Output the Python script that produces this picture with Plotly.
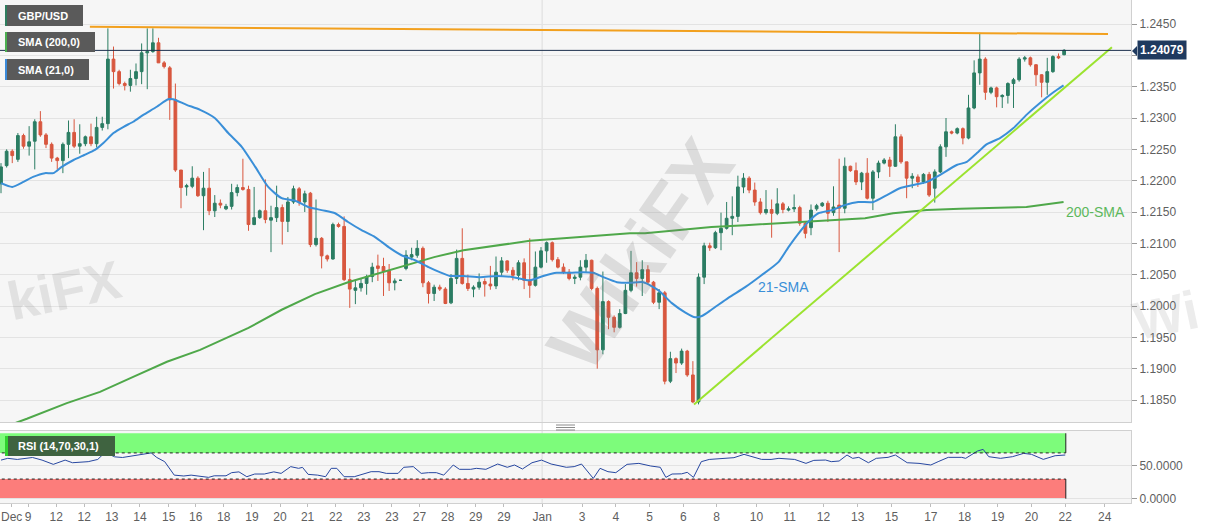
import plotly.graph_objects as go

# ---------------- DATA ----------------
# 4-hour GBP/USD candles, index 0..189
candle_open = [
1.2195,1.2224,1.2247,1.2234,1.2272,1.2255,1.2263,1.2294,1.2273,1.2258,
1.2236,1.2232,1.2258,1.2277,1.2255,1.2259,1.2270,1.2259,1.2285,1.2291,
1.2394,1.2374,1.2355,1.2352,1.2363,1.2374,1.2404,1.2406,1.2420,1.2388,
1.2380,1.2329,1.2217,1.2190,1.2191,1.2204,1.2176,1.2188,1.2152,1.2164,
1.2155,1.2159,1.2181,1.2189,1.2186,1.2130,1.2141,1.2152,1.2137,1.2141,
1.2157,1.2135,1.2166,1.2187,1.2166,1.2180,1.2098,1.2108,1.2080,1.2075,
1.2130,1.2127,1.2042,1.2025,1.2029,1.2036,1.2047,1.2064,1.2063,1.2056,
1.2037,1.2041,1.2060,1.2078,1.2081,1.2092,1.2037,1.2020,1.2030,1.2027,
1.2005,1.2044,1.2076,1.2036,1.2027,1.2030,1.2039,1.2035,1.2032,1.2054,
1.2072,1.2057,1.2049,1.2069,1.2041,1.2033,1.2062,1.2088,1.2101,1.2074,
1.2062,1.2054,1.2044,1.2046,1.2062,1.2073,1.2028,1.1930,1.2007,1.1982,
1.1966,1.1988,1.2025,1.2053,1.2044,1.2058,1.2038,1.2006,1.2021,1.1880,
1.1916,1.1909,1.1928,1.1890,1.1847,1.2046,1.2096,1.2093,1.2117,1.2124,
1.2140,1.2143,1.2190,1.2204,1.2185,1.2166,1.2149,1.2154,1.2148,1.2163,
1.2153,1.2155,1.2157,1.2132,1.2125,1.2155,1.2160,1.2164,1.2149,1.2161,
1.2156,1.2223,1.2216,1.2198,1.2212,1.2172,1.2214,1.2228,1.2233,1.2223,
1.2270,1.2230,1.2204,1.2206,1.2198,1.2210,1.2188,1.2214,1.2254,1.2278,
1.2276,1.2283,1.2268,1.2316,1.2372,1.2394,1.2341,1.2348,1.2334,1.2336,
1.2355,1.2361,1.2394,1.2396,1.2385,1.2369,1.2357,1.2374,1.2398,1.2401]
candle_high = [
1.2228,1.2250,1.2250,1.2276,1.2275,1.2287,1.2298,1.2311,1.2276,1.2261,
1.2238,1.2261,1.2296,1.2298,1.2290,1.2272,1.2291,1.2302,1.2302,1.2443,
1.2414,1.2377,1.2358,1.2377,1.2387,1.2419,1.2443,1.2443,1.2428,1.2391,
1.2383,1.2355,1.2217,1.2195,1.2223,1.2207,1.2214,1.2220,1.2177,1.2170,
1.2163,1.2195,1.2194,1.2235,1.2192,1.2190,1.2154,1.2202,1.2160,1.2192,
1.2162,1.2174,1.2192,1.2190,1.2184,1.2182,1.2170,1.2110,1.2082,1.2133,
1.2133,1.2143,1.2060,1.2042,1.2044,1.2050,1.2069,1.2082,1.2077,1.2067,
1.2044,1.2042,1.2089,1.2093,1.2105,1.2095,1.2040,1.2034,1.2034,1.2030,
1.2051,1.2090,1.2124,1.2050,1.2033,1.2052,1.2044,1.2064,1.2079,1.2078,
1.2073,1.2062,1.2073,1.2076,1.2108,1.2087,1.2094,1.2103,1.2103,1.2078,
1.2068,1.2059,1.2050,1.2073,1.2083,1.2074,1.2031,1.2055,1.2009,1.1985,
1.1995,1.2035,1.2088,1.2070,1.2073,1.2065,1.2040,1.2027,1.2024,1.1927,
1.1918,1.1932,1.1930,1.1912,1.2052,1.2101,1.2101,1.2120,1.2149,1.2166,
1.2175,1.2208,1.2212,1.2207,1.2197,1.2172,1.2185,1.2170,1.2188,1.2166,
1.2159,1.2178,1.2160,1.2135,1.2162,1.2163,1.2166,1.2168,1.2191,1.2235,
1.2237,1.2224,1.2229,1.2214,1.2236,1.2217,1.2232,1.2236,1.2238,1.2290,
1.2274,1.2230,1.2212,1.2210,1.2212,1.2214,1.2218,1.2258,1.2300,1.2280,
1.2285,1.2285,1.2337,1.2392,1.2436,1.2397,1.2350,1.2350,1.2338,1.2357,
1.2364,1.2397,1.2399,1.2398,1.2386,1.2370,1.2396,1.2400,1.2403,1.2410]
candle_low = [
1.2180,1.2221,1.2228,1.2230,1.2251,1.2240,1.2218,1.2270,1.2252,1.2230,
1.2218,1.2212,1.2236,1.2252,1.2243,1.2255,1.2255,1.2253,1.2280,1.2282,
1.2347,1.2352,1.2344,1.2342,1.2352,1.2354,1.2346,1.2404,1.2388,1.2379,
1.2297,1.2214,1.2156,1.2176,1.2188,1.2174,1.2121,1.2145,1.2142,1.2156,
1.2153,1.2154,1.2175,1.2184,1.2120,1.2129,1.2139,1.2132,1.2086,1.2134,
1.2098,1.2118,1.2163,1.2160,1.2150,1.2094,1.2095,1.2060,1.2071,1.2074,
1.2125,1.2040,1.1997,1.2003,1.2023,1.2018,1.2038,1.2040,1.2016,1.2024,
1.2025,1.2040,1.2057,1.2073,1.2077,1.2030,1.2004,1.2008,1.2024,1.2003,
1.2003,1.2035,1.2034,1.2024,1.2014,1.2026,1.2015,1.2026,1.2027,1.2048,
1.2053,1.2041,1.2041,1.2027,1.2013,1.2031,1.2060,1.2069,1.2071,1.2060,
1.2051,1.2041,1.2035,1.2041,1.2054,1.2025,1.1900,1.1923,1.1963,1.1958,
1.1964,1.1987,1.2022,1.2031,1.2016,1.2035,1.2003,1.1995,1.1875,1.1877,
1.1893,1.1906,1.1887,1.1845,1.1843,1.2035,1.2088,1.2091,1.2089,1.2122,
1.2113,1.2134,1.2180,1.2180,1.2160,1.2146,1.2146,1.2109,1.2145,1.2148,
1.2151,1.2150,1.2128,1.2108,1.2113,1.2152,1.2158,1.2134,1.2144,1.2086,
1.2148,1.2214,1.2193,1.2185,1.2170,1.2153,1.2204,1.2226,1.2206,1.2222,
1.2227,1.2172,1.2188,1.2190,1.2195,1.2174,1.2165,1.2212,1.2238,1.2274,
1.2274,1.2258,1.2266,1.2314,1.2353,1.2329,1.2338,1.2317,1.2316,1.2323,
1.2316,1.2358,1.2390,1.2382,1.2351,1.2333,1.2337,1.2372,1.2394,1.2400]
candle_close = [
1.2222,1.2247,1.2240,1.2272,1.2255,1.2262,1.2294,1.2273,1.2258,1.2236,
1.2232,1.2258,1.2277,1.2255,1.2259,1.2270,1.2259,1.2285,1.2291,1.2394,
1.2374,1.2355,1.2352,1.2363,1.2374,1.2404,1.2406,1.2420,1.2388,1.2382,
1.2329,1.2217,1.2189,1.2192,1.2204,1.2176,1.2188,1.2152,1.2164,1.2161,
1.2159,1.2181,1.2189,1.2186,1.2130,1.2141,1.2152,1.2138,1.2141,1.2157,
1.2135,1.2166,1.2187,1.2166,1.2179,1.2098,1.2108,1.2080,1.2075,1.2130,
1.2127,1.2042,1.2027,1.2029,1.2036,1.2047,1.2062,1.2060,1.2055,1.2037,
1.2040,1.2041,1.2081,1.2082,1.2092,1.2037,1.2020,1.2030,1.2027,1.2004,
1.2044,1.2076,1.2036,1.2028,1.2030,1.2038,1.2035,1.2032,1.2054,1.2072,
1.2057,1.2049,1.2069,1.2041,1.2033,1.2062,1.2088,1.2101,1.2074,1.2062,
1.2054,1.2044,1.2046,1.2062,1.2073,1.2028,1.1930,1.2007,1.1982,1.1966,
1.1988,1.2025,1.2053,1.2044,1.2058,1.2038,1.2006,1.2021,1.1880,1.1916,
1.1909,1.1928,1.1890,1.1847,1.2046,1.2096,1.2093,1.2117,1.2124,1.2140,
1.2143,1.2190,1.2204,1.2185,1.2166,1.2149,1.2154,1.2148,1.2163,1.2154,
1.2155,1.2157,1.2132,1.2116,1.2153,1.2160,1.2164,1.2148,1.2158,1.2156,
1.2223,1.2216,1.2198,1.2212,1.2172,1.2214,1.2228,1.2233,1.2223,1.2270,
1.2230,1.2204,1.2207,1.2198,1.2210,1.2177,1.2214,1.2254,1.2278,1.2276,
1.2283,1.2268,1.2316,1.2372,1.2394,1.2341,1.2348,1.2334,1.2336,1.2355,
1.2361,1.2394,1.2396,1.2385,1.2369,1.2357,1.2374,1.2398,1.2396,1.2408]

# 21-period SMA, sampled (candle index, price)
sma21_x = [0,2,4,5.7,7.8,9.3,10.8,12.9,14.8,16.7,18.2,20,21.8,23.5,25.3,27.7,29.7,30.6,33,35.4,
           38,40.4,42.8,45.2,47.5,49.9,52.3,54.6,57,59.4,61.7,64.1,66.5,68.9,71.2,73.6,76,78,79.8,82.2,
           85.2,88.1,91.1,94,96.4,98.8,101.2,103.5,105.3,107.1,109.5,111.8,114.2,116.9,119.2,121.6,123.4,
           124.6,126.3,129.3,132.3,135.2,138.2,140,141.8,143.5,145.3,147.7,150,152.4,155.1,157.5,159.8,
           162.2,164.6,166.9,169.9,171.7,173.5,175.2,177.6,180,182.3,184.7,187.1,188.9]
sma21_y = [1.2196,1.2190,1.2198,1.2206,1.2212,1.2212,1.2222,1.2233,1.2241,1.2249,1.2260,1.2276,1.2286,
           1.2294,1.2305,1.2318,1.2330,1.2330,1.2321,1.2313,1.2300,1.2276,1.2254,1.2222,1.2190,1.2172,
           1.2168,1.2158,1.2153,1.2148,1.2134,1.2121,1.2110,1.2094,1.2081,1.2073,1.2062,1.2054,1.2048,
           1.2048,1.2046,1.2048,1.2046,1.2041,1.2048,1.2053,1.2053,1.2054,1.2053,1.2046,1.2038,1.2037,
           1.2038,1.2025,1.2005,1.1990,1.1982,1.1984,1.1994,1.2013,1.2030,1.2049,1.2070,1.2094,1.2116,
           1.2134,1.2148,1.2153,1.2161,1.2166,1.2166,1.2177,1.2188,1.2193,1.2198,1.2209,1.2225,1.2230,
           1.2244,1.2258,1.2268,1.2284,1.2305,1.2324,1.2341,1.2352]

# 200-period SMA, sampled (candle index, price)
sma200_x = [0,4.6,11.7,17.6,23.5,29.5,35.4,38.5,44,49.9,55.8,61.7,67.7,73.6,77,82.2,88.1,94,100,105.9,
            111.8,114.5,120.4,126.3,132.3,138.2,144.1,150,153.6,158.6,164.6,170.5,176.4,182.3,188.9]
sma200_y = [1.1805,1.1820,1.1845,1.1863,1.1887,1.1911,1.1930,1.1943,1.1965,1.1994,1.2019,1.2038,1.2054,
            1.2070,1.2078,1.2089,1.2097,1.2104,1.2108,1.2112,1.2116,1.2116,1.2121,1.2126,1.2129,1.2132,
            1.2134,1.2137,1.2140,1.2148,1.2153,1.2155,1.2156,1.2158,1.2166]

# RSI(14), sampled (candle index, value)
rsi_x = [0,1.2,2.9,4.2,5.6,7.3,9.3,11.4,12.7,15.5,17.2,18.5,20.2,21.6,24.3,26,26.7,27.7,29.1,30.8,
         32.5,33.8,35.2,36.9,37.9,40,41,42.3,43.7,45.1,46.8,48.5,49.8,51.5,52.9,53.6,54.6,56.3,57.7,58.7,
         59.7,61,62.8,64.5,65.8,67.2,68.5,70.6,71.6,73.3,74.7,76,77.4,78.7,80.4,81.5,83.5,84.5,86.2,88.3,
         90,91.3,92.7,94.4,96.1,97.8,100.5,101.9,103.2,105.3,106.5,107.9,109.3,111.3,113.4,115.5,117.2,
         118.2,119.3,121,122,123.1,124.5,125.9,128.6,130.3,132.1,135.2,136.9,138.3,141.1,143.1,144.5,
         146.6,147.6,149,150.4,151.4,152.5,154.2,155.6,157.7,159,161.1,163.2,165.3,166.6,168.4,170.8,
         171.5,173.6,174.6,175.6,177.7,179.8,181.8,183.2,185.3,187.4,189.2]
rsi_y = [59,61.7,60,61.7,63,59,52.5,59,55,56.6,60,70.8,64,63,66.8,69,70,63,56.6,36,
         34.7,36,34.7,32.6,35,35,39.8,41,33.6,37.7,37.7,41,38.7,49,46.4,47.9,37.2,36,33.6,46.4,
         46.4,33.6,33.6,37.7,41.3,41.3,38.7,38.7,48,49,38.7,39.8,39.8,36,51.5,44.9,44.9,46.4,44.9,53,
         48,51.5,45.4,55,59,53,48,49,53,31,46.4,41.3,39.8,52.5,54,50,48,
         32.6,37.7,38,40.3,32.6,56.6,60,61.7,62.7,67.8,60.1,60,61.7,60,54,58.6,
         59.1,56.6,57.6,66.8,61.7,63.2,55,61.7,63.2,66.8,55,54,51.5,56.6,63.2,63.2,
         61.7,72.9,75.4,64.2,61.7,64.2,69.3,67.8,60.1,65.7,66.8]

# trend lines (candle index, price)
resist_x = [15.8, 196.8]
resist_y = [1.24457, 1.24340]
support_x = [123.2, 197.5]
support_y = [1.1843, 1.2413]
last_price = 1.24079

# axis ticks
price_ticks = [1.1850, 1.1900, 1.1950, 1.2000, 1.2050, 1.2100, 1.2150, 1.2200,
               1.2250, 1.2300, 1.2350, 1.2400, 1.2450]
price_tick_text = ["1.1850", "1.1900", "1.1950", "1.2000", "1.2050", "1.2100", "1.2150", "1.2200",
                   "1.2250", "1.2300", "1.2350", "", "1.2450"]
date_tick_pos = [1.9, 4.8, 9.8, 14.8, 19.7, 24.7, 29.8, 34.6, 39.6, 44.6, 49.6, 54.5, 59.5, 64.5,
                 69.5, 74.4, 79.4, 84.4, 89.4, 96.2, 103.3, 109.3, 115.3, 121.3, 127.2, 134.3, 140.2,
                 146.2, 152.3, 158.3, 165.3, 171.3, 177.2, 183.2, 189.2, 196.2]
date_tick_text = ["Dec", "9", "12", "12", "13", "14", "15", "16", "18", "19", "20", "21", "22", "23",
                  "23", "27", "28", "29", "29", "Jan", "3", "4", "5", "6", "8", "10", "11",
                  "12", "13", "15", "17", "18", "19", "20", "22", "24"]
jan_pos = 96.2
rsi_end = 189.3

# ---------------- LAYOUT HELPERS ----------------
W, H = 1207, 526
ML, MR, MT, MB = 0, 76, 0, 23
PW, PH = W - ML - MR, H - MT - MB


def PX(px):
    return px / PW


def PY(py):
    return 1 - py / PH


FONT = "Liberation Sans, Arial, sans-serif"
UP, DN = "#2b7d63", "#d8573f"
GRID = "#e3e3e3"
FRAME = "#d0d0d0"
idx = list(range(len(candle_open)))

fig = go.Figure()
fig.add_trace(go.Candlestick(
    x=idx, open=candle_open, high=candle_high, low=candle_low, close=candle_close,
    increasing=dict(line=dict(color=UP, width=1), fillcolor=UP),
    decreasing=dict(line=dict(color=DN, width=1), fillcolor=DN),
    whiskerwidth=0, showlegend=False, hoverinfo="skip", xaxis="x", yaxis="y"))
fig.add_trace(go.Scatter(x=sma200_x, y=sma200_y, mode="lines", line=dict(color="#4fa84a", width=2),
                         showlegend=False, hoverinfo="skip", xaxis="x", yaxis="y"))
fig.add_trace(go.Scatter(x=sma21_x, y=sma21_y, mode="lines", line=dict(color="#3a8fd8", width=2, shape="spline", smoothing=0.6),
                         showlegend=False, hoverinfo="skip", xaxis="x", yaxis="y"))
fig.add_trace(go.Scatter(x=resist_x, y=resist_y, mode="lines", line=dict(color="#f2a01e", width=2),
                         showlegend=False, hoverinfo="skip", xaxis="x", yaxis="y"))
fig.add_trace(go.Scatter(x=support_x, y=support_y, mode="lines", line=dict(color="#9be32f", width=2),
                         showlegend=False, hoverinfo="skip", xaxis="x", yaxis="y"))
fig.add_trace(go.Scatter(x=rsi_x, y=rsi_y, mode="lines", line=dict(color="#2747a0", width=1),
                         showlegend=False, hoverinfo="skip", xaxis="x2", yaxis="y2"))

main_bottom = (PH - 422) / PH
rsi_top = (PH - 431) / PH
xr = [-0.178, (PW - 1) / 5.625]

shapes = []
# RSI bands
shapes.append(dict(type="rect", xref="x2", yref="y2", x0=-2, x1=rsi_end, y0=70, y1=100,
                   fillcolor="#7dfc7b", line=dict(width=0), layer="below"))
shapes.append(dict(type="rect", xref="x2", yref="y2", x0=-2, x1=rsi_end, y0=0, y1=30,
                   fillcolor="#fc7d7b", line=dict(width=0), layer="below"))
for lvl in (70, 30):
    shapes.append(dict(type="line", xref="x2", yref="y2", x0=-2, x1=rsi_end, y0=lvl, y1=lvl,
                       line=dict(color="#222", width=1, dash="dot")))
shapes.append(dict(type="line", xref="x2", yref="y2", x0=rsi_end, x1=rsi_end, y0=70, y1=100,
                   line=dict(color="#222", width=1)))
shapes.append(dict(type="line", xref="x2", yref="y2", x0=rsi_end, x1=rsi_end, y0=0, y1=30,
                   line=dict(color="#222", width=1)))
# Jan separator
shapes.append(dict(type="line", xref="x", yref="paper", x0=jan_pos, x1=jan_pos, y0=0, y1=1,
                   line=dict(color="#dcdcdc", width=1), layer="below"))
# last price line
shapes.append(dict(type="line", xref="paper", yref="y", x0=0, x1=1, y0=last_price, y1=last_price,
                   line=dict(color="#1c2f4d", width=1)))
# price tag arrow
shapes.append(dict(type="path", xref="paper", yref="paper",
                   path=f"M {PX(1132)} {PY(51)} L {PX(1137)} {PY(46)} L {PX(1137)} {PY(56)} Z",
                   fillcolor="#1f3a5f", line=dict(width=0)))
# splitter icon
for yy in (425, 427.5, 430):
    shapes.append(dict(type="line", xref="paper", yref="paper", x0=PX(556), x1=PX(575),
                       y0=PY(yy), y1=PY(yy), line=dict(color="#8a8a8a", width=1)))

annotations = []
# legend boxes
boxes = [("GBP/USD", 5, 83, 5, 26, "#2e7d5e"),
         ("SMA (200,0)", 5, 95, 32, 52, "#4caf50"),
         ("SMA (21,0)", 5, 89, 59, 80, "#3b8ad9")]
for text, x0, x1, y0, y1, col in boxes:
    shapes.append(dict(type="rect", xref="paper", yref="paper", x0=PX(x0), x1=PX(x1), y0=PY(y1), y1=PY(y0),
                       fillcolor="#5a5a5a", line=dict(width=0)))
    shapes.append(dict(type="rect", xref="paper", yref="paper", x0=PX(x0), x1=PX(x0 + 2), y0=PY(y1), y1=PY(y0),
                       fillcolor=col, line=dict(width=0)))
    annotations.append(dict(xref="paper", yref="paper", x=PX(16), y=PY((y0 + y1) / 2), text=f"<b>{text}</b>",
                            showarrow=False, xanchor="left", yanchor="middle",
                            font=dict(family=FONT, size=11, color="white")))
# RSI box
shapes.append(dict(type="rect", xref="paper", yref="paper", x0=PX(5), x1=PX(115), y0=PY(456), y1=PY(436),
                   fillcolor="#3f6340", line=dict(width=0)))
shapes.append(dict(type="rect", xref="paper", yref="paper", x0=PX(5), x1=PX(8), y0=PY(456), y1=PY(436),
                   fillcolor="#2fd12f", line=dict(width=0)))
annotations.append(dict(xref="paper", yref="paper", x=PX(16), y=PY(446), text="<b>RSI (14,70,30,1)</b>",
                        showarrow=False, xanchor="left", yanchor="middle",
                        font=dict(family=FONT, size=11, color="white")))
# price tag
annotations.append(dict(xref="paper", yref="y", x=PX(1137), y=last_price, text="<b>1.24079</b>",
                        showarrow=False, xanchor="left", yanchor="middle", bgcolor="#1f3a5f",
                        borderpad=2, font=dict(family=FONT, size=12, color="white")))
# line labels
annotations.append(dict(xref="paper", yref="paper", x=PX(1064), y=PY(212), text="200-SMA",
                        showarrow=False, xanchor="left", yanchor="middle",
                        font=dict(family=FONT, size=14, color="#5cb85c")))
annotations.append(dict(xref="paper", yref="paper", x=PX(756), y=PY(287), text="21-SMA",
                        showarrow=False, xanchor="left", yanchor="middle",
                        font=dict(family=FONT, size=14, color="#3a8fd8")))
# watermarks
annotations.append(dict(xref="paper", yref="paper", x=PX(640), y=PY(255), text="<b>WikiFX</b>",
                        showarrow=False, textangle=-55,
                        font=dict(family=FONT, size=78, color="rgba(120,120,120,0.20)")))
annotations.append(dict(xref="paper", yref="paper", x=PX(0), y=PY(290), text="<b>kiFX</b>",
                        showarrow=False, xanchor="left", textangle=-12,
                        font=dict(family=FONT, size=54, color="rgba(120,120,120,0.16)")))
annotations.append(dict(xref="paper", yref="paper", x=PX(1125), y=PY(315), text="<b>Wi</b>",
                        showarrow=False, xanchor="left", textangle=-12,
                        font=dict(family=FONT, size=54, color="rgba(120,120,120,0.14)")))

axis_font = dict(family=FONT, size=12, color="#5f5f5f")
fig.update_layout(
    width=W, height=H, margin=dict(l=ML, r=MR, t=MT, b=MB),
    paper_bgcolor="white", plot_bgcolor="#f6f6f6",
    hovermode=False, showlegend=False,
    xaxis=dict(domain=[0, 1], range=xr, anchor="y", showticklabels=False, showgrid=False,
               zeroline=False, showline=True, mirror=True, linecolor=FRAME, rangeslider=dict(visible=False)),
    yaxis=dict(domain=[main_bottom, 1], range=[1.18149, 1.24883], side="right", anchor="x",
               tickvals=price_ticks, ticktext=price_tick_text, tickfont=axis_font,
               ticks="outside", ticklen=5, tickcolor="#9a9a9a", gridcolor=GRID, zeroline=False,
               showline=True, mirror=True, linecolor=FRAME),
    xaxis2=dict(domain=[0, 1], range=xr, anchor="y2", matches="x", tickvals=date_tick_pos,
                ticktext=date_tick_text, tickfont=axis_font, ticks="outside", ticklen=3,
                tickcolor="#bdbdbd", showgrid=False, zeroline=False, showline=True, mirror=True,
                linecolor=FRAME, ticklabeloverflow="allow"),
    yaxis2=dict(domain=[0, rsi_top], range=[-6.6, 103.5], side="right", anchor="x2",
                tickvals=[0, 50], ticktext=["0.0000", "50.0000"], tickfont=axis_font,
                ticks="outside", ticklen=5, tickcolor="#9a9a9a", gridcolor=GRID, zeroline=False,
                showline=True, mirror=True, linecolor=FRAME),
    shapes=shapes, annotations=annotations,
)

fig.write_html("out.html", config={"displayModeBar": False, "staticPlot": True},
               post_script="document.body.style.margin='0';document.body.style.overflow='hidden';")
